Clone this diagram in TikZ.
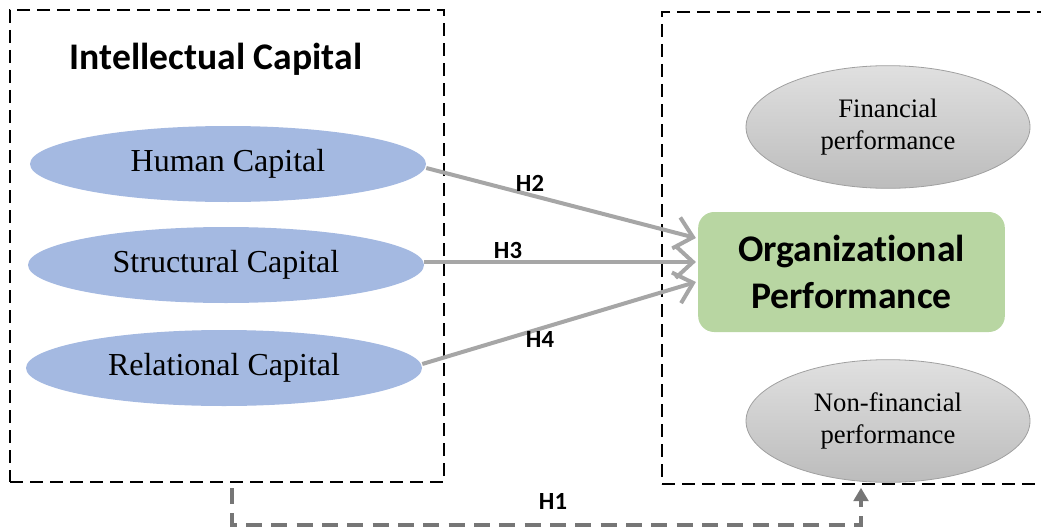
\documentclass[tikz,border=0pt]{standalone}
\usepackage{fontspec}
\setmainfont{Liberation Serif}
\newfontfamily\carlito[Ligatures=NoCommon]{Carlito}
\usetikzlibrary{shapes.geometric,arrows.meta}
\definecolor{capblue}{RGB}{164,185,225}
\definecolor{orggreen}{RGB}{184,214,162}
\definecolor{perftop}{RGB}{224,224,224}
\definecolor{perfbot}{RGB}{188,188,188}
\definecolor{perfline}{RGB}{160,160,160}
\definecolor{hypgrey}{RGB}{166,166,166}
\definecolor{linkgrey}{RGB}{118,118,118}

\begin{document}
\begin{tikzpicture}[x=0.75pt,y=0.75pt,yscale=-1,xscale=1,
	groupbox/.style={draw=black, line width=1.2pt, dash pattern=on 10pt off 5pt, minimum height=354pt, inner sep=0pt},
	capital/.style={ellipse, fill=capblue, minimum width=297pt, minimum height=57pt, inner sep=0pt, font=\fontsize{24}{27}\selectfont},
	perf/.style={ellipse, draw=perfline, line width=0.6pt, top color=perftop, bottom color=perfbot, minimum width=213pt, minimum height=92pt, inner sep=0pt, align=center, font=\fontsize{20}{24}\selectfont},
	hyp/.style={draw=hypgrey, line width=3pt, -{Straight Barb[length=13pt,width=24pt,line width=3pt]}},
	hlabel/.style={inner sep=0.75pt, font=\carlito\bfseries\fontsize{18.5}{20}\selectfont}]
	\useasboundingbox (0,0) rectangle (1041,528);
	
	%Dashed group boxes
	\node [groupbox, minimum width=325.5pt] (icbox) at (227,246) {};
	\node [groupbox, minimum width=298.5pt] (opbox) at (861,248) {};
	
	% Text Node
	\node [inner sep=0.75pt, font=\carlito\bfseries\fontsize{28.2}{30}\selectfont] (ictitle) at (216,59) {Intellectual Capital};
	
	%Shape: Ellipse
	\node [capital] (hc) at (228,164) {Human Capital};
	%Shape: Ellipse
	\node [capital] (sc) at (226,265) {Structural Capital};
	%Shape: Ellipse
	\node [capital] (rc) at (224,368) {Relational Capital};
	
	%Shape: Ellipse
	\node [perf] (fp) at (888,127) {Financial\\performance};
	%Shape: Ellipse
	\node [perf] (nfp) at (888,421) {Non-financial\\performance};
	
	%Shape: Rounded Rectangle
	\node [fill=orggreen, rounded corners=12pt, minimum width=230pt, minimum height=90pt, inner sep=0pt, align=center, font=\carlito\bfseries\fontsize{28.2}{35}\selectfont] (op) at (851.5,272) {Organizational\\Performance};
	
	%Straight Lines (yshift runs downward here, as yscale=-1)
	\draw [hyp] ([yshift=3pt]hc.east) -- ([yshift=-25.5pt,xshift=-1.5pt]op.west);
	\draw [hyp] ([yshift=-2.25pt]sc.east) -- ([yshift=-7.5pt,xshift=-1.5pt]op.west);
	\draw [hyp] ([yshift=-3pt]rc.east) -- ([yshift=7.5pt,xshift=-1.5pt]op.west);
	
	%H1 link
	\draw [linkgrey, line width=3pt, dash pattern=on 12pt off 7pt, -{Triangle[length=10pt,width=11pt]}] ([xshift=4pt,yshift=4pt]icbox.south) -- ++(0,37) -| ([yshift=2.25pt]opbox.south);
	
	% Text Node
	\node [hlabel] (h2) at (530,183) {H2};
	% Text Node
	\node [hlabel] (h3) at (508,250) {H3};
	% Text Node
	\node [hlabel] (h4) at (540,339) {H4};
	% Text Node
	\node [hlabel] (h1) at (553,501) {H1};
\end{tikzpicture}
\end{document}
